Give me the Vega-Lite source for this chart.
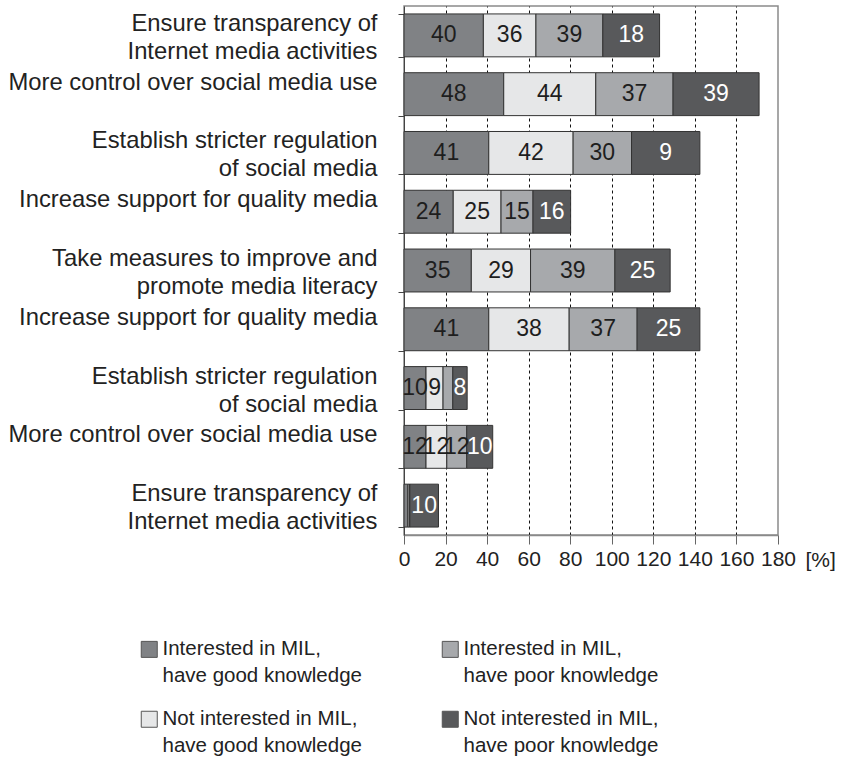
{
  "$schema": "https://vega.github.io/schema/vega-lite/v6.json",
  "width": 374,
  "height": 529,
  "autosize": "none",
  "padding": {"left": 404, "top": 6, "right": 64, "bottom": 229},
  "config": {
    "font": "Liberation Sans",
    "view": {"stroke": "#8a8a8a", "strokeWidth": 1.5},
    "axis": {"labelColor": "#222", "titleColor": "#222", "labelFont": "Liberation Sans", "titleFont": "Liberation Sans"},
    "legend": {"labelFont": "Liberation Sans", "labelColor": "#222"},
    "style": {"guide-label": {"lineHeight": 27}}
  },
  "data": {
    "values": [
      {"r": "Ensure transparency of|Internet media activities", "o": 1, "seg": "Interested  in MIL,|have good knowledge", "w": 38.2, "t": "40"},
      {"r": "Ensure transparency of|Internet media activities", "o": 2, "seg": "Not interested in MIL,|have good knowledge", "w": 25.3, "t": "36"},
      {"r": "Ensure transparency of|Internet media activities", "o": 3, "seg": "Interested in MIL,|have poor knowledge", "w": 32.2, "t": "39"},
      {"r": "Ensure transparency of|Internet media activities", "o": 4, "seg": "Not interested in MIL,|have poor knowledge", "w": 27.3, "t": "18"},
      {"r": "More control over social media use", "o": 1, "seg": "Interested  in MIL,|have good knowledge", "w": 48.0, "t": "48"},
      {"r": "More control over social media use", "o": 2, "seg": "Not interested in MIL,|have good knowledge", "w": 44.3, "t": "44"},
      {"r": "More control over social media use", "o": 3, "seg": "Interested in MIL,|have poor knowledge", "w": 37.2, "t": "37"},
      {"r": "More control over social media use", "o": 4, "seg": "Not interested in MIL,|have poor knowledge", "w": 41.4, "t": "39"},
      {"r": "Establish stricter regulation|of social media", "o": 1, "seg": "Interested  in MIL,|have good knowledge", "w": 40.8, "t": "41"},
      {"r": "Establish stricter regulation|of social media", "o": 2, "seg": "Not interested in MIL,|have good knowledge", "w": 40.6, "t": "42"},
      {"r": "Establish stricter regulation|of social media", "o": 3, "seg": "Interested in MIL,|have poor knowledge", "w": 28.1, "t": "30"},
      {"r": "Establish stricter regulation|of social media", "o": 4, "seg": "Not interested in MIL,|have poor knowledge", "w": 32.9, "t": "9"},
      {"r": "Increase support for quality media", "o": 1, "seg": "Interested  in MIL,|have good knowledge", "w": 23.7, "t": "24"},
      {"r": "Increase support for quality media", "o": 2, "seg": "Not interested in MIL,|have good knowledge", "w": 23.0, "t": "25"},
      {"r": "Increase support for quality media", "o": 3, "seg": "Interested in MIL,|have poor knowledge", "w": 15.4, "t": "15"},
      {"r": "Increase support for quality media", "o": 4, "seg": "Not interested in MIL,|have poor knowledge", "w": 18.1, "t": "16"},
      {"r": "Take measures to improve and|promote media literacy", "o": 1, "seg": "Interested  in MIL,|have good knowledge", "w": 32.4, "t": "35"},
      {"r": "Take measures to improve and|promote media literacy", "o": 2, "seg": "Not interested in MIL,|have good knowledge", "w": 28.5, "t": "29"},
      {"r": "Take measures to improve and|promote media literacy", "o": 3, "seg": "Interested in MIL,|have poor knowledge", "w": 40.6, "t": "39"},
      {"r": "Take measures to improve and|promote media literacy", "o": 4, "seg": "Not interested in MIL,|have poor knowledge", "w": 26.6, "t": "25"},
      {"r": "Increase support for quality media\u200b", "o": 1, "seg": "Interested  in MIL,|have good knowledge", "w": 40.8, "t": "41"},
      {"r": "Increase support for quality media\u200b", "o": 2, "seg": "Not interested in MIL,|have good knowledge", "w": 38.7, "t": "38"},
      {"r": "Increase support for quality media\u200b", "o": 3, "seg": "Interested in MIL,|have poor knowledge", "w": 32.7, "t": "37"},
      {"r": "Increase support for quality media\u200b", "o": 4, "seg": "Not interested in MIL,|have poor knowledge", "w": 30.2, "t": "25"},
      {"r": "Establish stricter regulation|of social media\u200b", "o": 1, "seg": "Interested  in MIL,|have good knowledge", "w": 10.6, "t": "10"},
      {"r": "Establish stricter regulation|of social media\u200b", "o": 2, "seg": "Not interested in MIL,|have good knowledge", "w": 8.2, "t": "9"},
      {"r": "Establish stricter regulation|of social media\u200b", "o": 3, "seg": "Interested in MIL,|have poor knowledge", "w": 4.7, "t": ""},
      {"r": "Establish stricter regulation|of social media\u200b", "o": 4, "seg": "Not interested in MIL,|have poor knowledge", "w": 6.9, "t": "8"},
      {"r": "More control over social media use\u200b", "o": 1, "seg": "Interested  in MIL,|have good knowledge", "w": 10.6, "t": "12"},
      {"r": "More control over social media use\u200b", "o": 2, "seg": "Not interested in MIL,|have good knowledge", "w": 10.0, "t": "12"},
      {"r": "More control over social media use\u200b", "o": 3, "seg": "Interested in MIL,|have poor knowledge", "w": 9.6, "t": "12"},
      {"r": "More control over social media use\u200b", "o": 4, "seg": "Not interested in MIL,|have poor knowledge", "w": 12.5, "t": "10"},
      {"r": "Ensure transparency of|Internet media activities\u200b", "o": 1, "seg": "Interested  in MIL,|have good knowledge", "w": 1.8, "t": ""},
      {"r": "Ensure transparency of|Internet media activities\u200b", "o": 2, "seg": "Not interested in MIL,|have good knowledge", "w": 0.7, "t": ""},
      {"r": "Ensure transparency of|Internet media activities\u200b", "o": 3, "seg": "Interested in MIL,|have poor knowledge", "w": 0.3, "t": ""},
      {"r": "Ensure transparency of|Internet media activities\u200b", "o": 4, "seg": "Not interested in MIL,|have poor knowledge", "w": 13.8, "t": "10"}
    ]
  },
  "encoding": {
    "y": {
      "field": "r", "type": "nominal", "sort": null,
      "scale": {"paddingInner": 0.27, "paddingOuter": 0.135},
      "axis": {
        "title": null,
        "labelExpr": "split(datum.label, '|')",
        "labelFontSize": 23.8,
        "labelLineHeight": 28,
        "labelPadding": 21,
        "labelLimit": 420,
        "labelOffset": -12,
        "tickBand": "extent",
        "tickSize": 6,
        "tickColor": "#444",
        "domainColor": "#444",
        "grid": false
      }
    },
    "x": {
      "field": "w", "type": "quantitative", "stack": "zero",
      "scale": {"domain": [0, 180], "nice": false},
      "axis": {
        "values": [0, 20, 40, 60, 80, 100, 120, 140, 160, 180],
        "title": "[%]",
        "titleFontSize": 21,
        "titleFontWeight": "normal",
        "titleX": 401,
        "titleY": 31,
        "titleAlign": "left",
        "titleAnchor": "start",
        "titleBaseline": "alphabetic",
        "labelFontSize": 21,
        "labelPadding": 4,
        "labelOverlap": false,
        "labelFlush": false,
        "tickSize": 9,
        "tickColor": "#666",
        "domainColor": "#8a8a8a",
        "domainWidth": 1.5,
        "grid": true,
        "gridColor": "#111",
        "gridDash": [3, 3],
        "gridWidth": 1,
        "gridOpacity": {"condition": {"test": "datum.value === 0 || datum.value === 180", "value": 0}, "value": 1}
      }
    },
    "order": {"field": "o", "type": "quantitative"}
  },
  "layer": [
    {
      "mark": {"type": "bar", "stroke": "#333", "strokeWidth": 1},
      "encoding": {
        "color": {
          "field": "seg", "type": "nominal",
          "scale": {
            "domain": ["Interested  in MIL,|have good knowledge", "Not interested in MIL,|have good knowledge", "Interested in MIL,|have poor knowledge", "Not interested in MIL,|have poor knowledge"],
            "range": ["#808285", "#e6e7e8", "#a7a9ac", "#58595b"]
          },
          "legend": {
            "title": null,
            "orient": "none",
            "legendX": -265,
            "legendY": 633,
            "columns": 2,
            "columnPadding": 78,
            "rowPadding": 22,
            "symbolType": "square",
            "symbolSize": 256,
            "symbolStrokeColor": "#555",
            "symbolStrokeWidth": 1,
            "labelFontSize": 20.5,
            "labelOffset": 3,
            "labelLimit": 400,
            "labelExpr": "split(datum.label, '|')"
          }
        }
      }
    },
    {
      "mark": {"type": "text", "fontSize": 23, "baseline": "middle", "align": "center"},
      "encoding": {
        "x": {"field": "w", "type": "quantitative", "stack": "zero", "bandPosition": 0.5},
        "detail": {"field": "seg", "type": "nominal"},
        "text": {"field": "t", "type": "nominal"},
        "color": {"condition": {"test": "datum.o === 4", "value": "#ffffff"}, "value": "#1e1e1e"}
      }
    }
  ]
}
